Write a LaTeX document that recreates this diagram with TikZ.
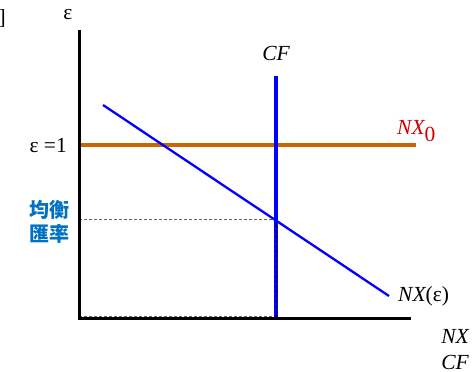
\documentclass[tikz,border=0pt]{standalone}
\usepackage{fontspec}
\setmainfont{Liberation Serif}
\newfontfamily\cjk{Noto Sans CJK TC}
\definecolor{orng}{RGB}{204,102,0}
\definecolor{nxred}{RGB}{204,0,0}
\definecolor{cjkblue}{RGB}{0,112,192}
\begin{document}
\begin{tikzpicture}[x=1pt,y=-1pt,
  lbl/.style={inner sep=0pt,font=\fontsize{21.5}{24}\selectfont},
  axis/.style={black,line width=3pt},
  guide/.style={gray!80!black,dashed,line width=0.8pt,dash pattern=on 3pt off 2pt}]
\useasboundingbox (0,0) rectangle (472,372);
% coordinates
\coordinate (ytop) at (79,30);
\coordinate (orig) at (79,318);
\coordinate (xend) at (411,318);
\coordinate (cfbot) at (276,318);
\coordinate (cftop) at (276,76);
\coordinate (nxa) at (103,105);
\coordinate (nxb) at (389,296);
\coordinate (eq) at (276,219.5);
\coordinate (yeq) at (79,219.5);
\coordinate (oa) at (79,145);
\coordinate (ob) at (416,145);
% guides
\draw[guide] (yeq) -- (eq);
\draw[guide] (79,316) -- (276,316);
% lines
\draw[orng,line width=3.2pt] (oa) -- (ob);
\draw[blue,line width=3.4pt] (cftop) -- (cfbot);
\draw[black,dashed,line width=1pt,dash pattern=on 3pt off 2pt] (eq) -- (cfbot);
\draw[blue,line width=2.3pt] (nxa) -- (nxb);
% axes
\draw[axis] (ytop) -- (orig) -- (xend);
% labels
\node[lbl,anchor=east] (br) at (6,18) {]};
\node[lbl] (eps) at (68,15) {ε};
\node[lbl] (cf) at (276,53) {\itshape CF};
\node[lbl,anchor=east] (e1) at (67,146) {ε =1};
\node[lbl,text=nxred,anchor=base west] (nx0) at (397,134) {\itshape NX\textsubscript{\upshape\fontsize{21.5}{24}\selectfont 0}};
\node[lbl,anchor=west] (nxe) at (398,296) {\itshape NX\upshape(ε)};
\node[lbl] (nxl) at (455,336) {\itshape NX};
\node[lbl] (cfl) at (455,362) {\itshape CF};
\node[inner sep=0pt,font=\cjk\bfseries\fontsize{20}{24}\selectfont,text=cjkblue,align=center] (eqr) at (49,222) {均衡\\匯率};
\end{tikzpicture}
\end{document}
